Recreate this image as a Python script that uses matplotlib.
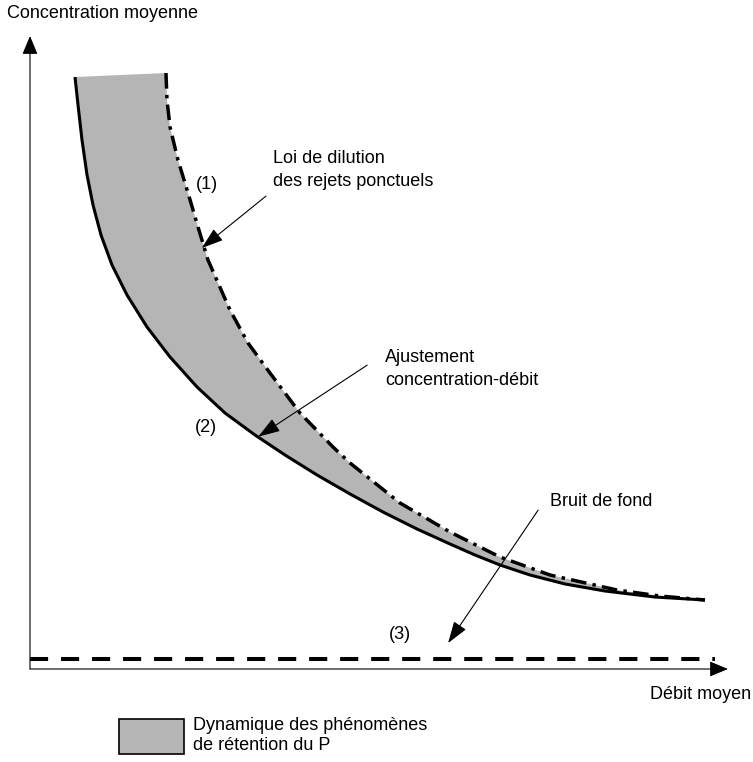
import matplotlib
matplotlib.use("Agg")
import matplotlib.pyplot as plt
from matplotlib.patches import Patch
import numpy as np

plt.rcParams['font.family'] = ['Liberation Sans', 'DejaVu Sans']

# (2) ajustement concentration-debit (solid curve)
fit_q = [6.45, 6.88, 7.45, 8.17, 9.03, 10.17, 11.75, 13.90, 16.76, 20.06, 23.93, 27.94, 32.23,
         36.53, 41.12, 45.85, 50.57, 55.44, 60.17, 63.75, 67.34, 71.63, 76.65, 82.38, 89.54, 96.70]
fit_c = [93.52, 89.10, 83.57, 78.04, 73.30, 68.56, 63.82, 59.08, 54.03, 49.29, 44.55, 40.44, 36.97,
         33.81, 30.65, 27.65, 24.80, 22.12, 19.75, 18.01, 16.43, 14.85, 13.43, 12.32, 11.37, 10.90]

# (1) loi de dilution des rejets ponctuels (dash-dot curve)
dil_q = [19.48, 19.63, 20.06, 21.20, 22.64, 24.07, 25.50, 28.65, 31.23, 34.38, 38.68, 43.41,
         45.85, 53.01, 60.17, 67.34, 74.50, 84.10, 90.26, 96.70]
dil_c = [94.15, 89.89, 85.62, 80.41, 75.20, 69.83, 64.61, 56.71, 51.50, 46.76, 40.44, 35.07,
         32.54, 26.22, 21.64, 17.69, 14.85, 12.48, 11.53, 10.90]

# (3) bruit de fond (dashed horizontal)
bg_q = [0.0, 98.1]
bg_c = [1.6, 1.6]

band_color = '#b5b5b5'

fig = plt.figure(figsize=(7.53, 7.62), dpi=100)
ax = fig.add_axes([30 / 753, (762 - 669) / 762, 698 / 753, 633 / 762])
ax.set_xlim(0, 100)
ax.set_ylim(0, 100)
ax.axis('off')

# shaded band between the two curves
ax.fill(np.concatenate([fit_q, dil_q[::-1]]),
        np.concatenate([fit_c, dil_c[::-1]]),
        color=band_color, lw=0)

ax.plot(fit_q, fit_c, color='black', lw=2.2, solid_capstyle='butt')
ax.plot(dil_q, dil_c, color='black', lw=2.5, dashes=(4.5, 1.8, 1, 1.8))
ax.plot(bg_q, bg_c, color='black', lw=2.9, dashes=(4.5, 3.2))

# axes with arrow heads
axis_arrow = dict(arrowstyle='-|>,head_length=0.6,head_width=0.25', mutation_scale=19,
                  lw=0.8, color='black', shrinkA=0, shrinkB=0)
ax.annotate('', xy=(100, 0), xytext=(0, 0), arrowprops=axis_arrow, annotation_clip=False)
ax.annotate('', xy=(0, 100), xytext=(0, 0), arrowprops=axis_arrow, annotation_clip=False)

fs = 13
ax.text(-3.3, 103.6, 'Concentration moyenne', fontsize=fs, ha='left', va='center')
ax.text(103.3, -4.1, 'Débit moyen', fontsize=fs, ha='right', va='center')

ptr = dict(arrowstyle='-|>,head_length=0.9,head_width=0.3', mutation_scale=15,
           lw=0.8, color='black', shrinkA=0, shrinkB=0)
ax.annotate('', xy=(24.6, 66.5), xytext=(33.8, 74.7), arrowprops=ptr)
ax.text(34.8, 78.8, 'Loi de dilution\ndes rejets ponctuels', fontsize=fs,
        ha='left', va='center', linespacing=1.45)

ax.annotate('', xy=(32.7, 36.7), xytext=(48.3, 48.0), arrowprops=ptr)
ax.text(50.9, 47.4, 'Ajustement\nconcentration-débit', fontsize=fs,
        ha='left', va='center', linespacing=1.45)

ax.annotate('', xy=(59.9, 4.1), xytext=(72.8, 25.1), arrowprops=ptr)
ax.text(74.5, 26.4, 'Bruit de fond', fontsize=fs, ha='left', va='center')

ax.text(25.4, 76.6, '(1)', fontsize=fs, ha='center', va='center')
ax.text(25.2, 38.1, '(2)', fontsize=fs, ha='center', va='center')
ax.text(53.0, 5.4, '(3)', fontsize=fs, ha='center', va='center')

handle = Patch(facecolor=band_color, edgecolor='black', lw=1.2)
fig.legend([handle], ['Dynamique des phénomènes\nde rétention du P'],
           loc='upper left', bbox_to_anchor=(119 / 753, (762 - 717) / 762),
           frameon=False, fontsize=fs, borderpad=0, borderaxespad=0,
           handlelength=3.6, handleheight=2.6, handletextpad=0.5)

fig.savefig('out.png', dpi=100, facecolor='white')
